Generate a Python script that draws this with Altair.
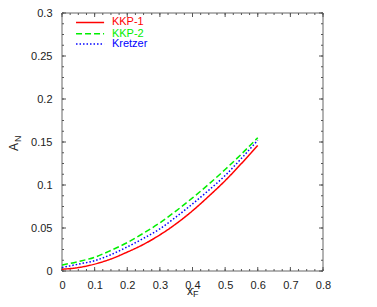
import altair as alt
import pandas as pd

# data
xF = [0.0, 0.05, 0.1, 0.15, 0.2, 0.25, 0.3, 0.35, 0.4, 0.45, 0.5, 0.55, 0.6]
kkp1 = [0.002, 0.004, 0.008, 0.014, 0.022, 0.031, 0.042, 0.055, 0.070, 0.087, 0.105, 0.125, 0.146]
kkp2 = [0.007, 0.011, 0.016, 0.024, 0.033, 0.044, 0.056, 0.070, 0.085, 0.101, 0.118, 0.136, 0.155]
kretzer = [0.004, 0.008, 0.012, 0.019, 0.028, 0.038, 0.049, 0.063, 0.078, 0.094, 0.111, 0.131, 0.152]

series = ["KKP-1", "KKP-2", "Kretzer"]
colors = ["#ff0000", "#00ee00", "#0000ff"]
dashes = [[1, 0], [6, 3], [1.5, 2]]

x_major = [0, 0.1, 0.2, 0.3, 0.4, 0.5, 0.6, 0.7, 0.8]
x_minor = [round(0.025 * k, 4) for k in range(33)]
y_major = [0, 0.05, 0.1, 0.15, 0.2, 0.25, 0.3]
y_minor = [round(0.0125 * k, 4) for k in range(25)]

# legend placement (data units)
leg_x1, leg_x2, leg_tx = 0.043, 0.129, 0.153
leg_y = [0.289, 0.276, 0.264]

rows = []
for name, vals in zip(series, [kkp1, kkp2, kretzer]):
    for xv, yv in zip(xF, vals):
        rows.append({"x": xv, "y": yv, "series": name})
df = pd.DataFrame(rows)
leg = pd.DataFrame({"series": series, "x1": [leg_x1] * 3, "x2": [leg_x2] * 3,
                    "tx": [leg_tx] * 3, "y": leg_y})

W, H = 261, 258
FONT = "Liberation Sans"
TICK = "#555555"
xs = alt.Scale(domain=[0, 0.8], nice=False, zero=False)
ys = alt.Scale(domain=[0, 0.3], nice=False, zero=False)
col = alt.Scale(domain=series, range=colors)
dsh = alt.Scale(domain=series, range=dashes)

AX_X = alt.Axis(values=x_major, format=".1~f", ticks=False, domain=False, grid=False,
                labelPadding=8, labelFlush=False, labelFont=FONT, labelFontSize=11,
                labelColor="#222222", title=None)
AX_Y = alt.Axis(values=y_major, format=".2~f", ticks=False, domain=False, grid=False,
                labelPadding=10, labelFlush=False, labelFont=FONT, labelFontSize=11,
                labelColor="#222222", title=None)

lines = alt.Chart(df).mark_line(strokeWidth=1.5, interpolate="monotone").encode(
    x=alt.X("x:Q", scale=xs, axis=AX_X),
    y=alt.Y("y:Q", scale=ys, axis=AX_Y),
    color=alt.Color("series:N", scale=col, legend=None),
    strokeDash=alt.StrokeDash("series:N", scale=dsh, legend=None),
)

leg_rules = alt.Chart(leg).mark_rule(strokeWidth=1.5).encode(
    x=alt.X("x1:Q", scale=xs, axis=AX_X),
    x2="x2:Q",
    y=alt.Y("y:Q", scale=ys, axis=AX_Y),
    color=alt.Color("series:N", scale=col, legend=None),
    strokeDash=alt.StrokeDash("series:N", scale=dsh, legend=None),
)

leg_text = alt.Chart(leg).mark_text(align="left", baseline="middle", font=FONT,
                                    fontSize=11).encode(
    x=alt.X("tx:Q", scale=xs, axis=AX_X),
    y=alt.Y("y:Q", scale=ys, axis=AX_Y),
    text="series:N",
    color=alt.Color("series:N", scale=col, legend=None),
)

# frame
tdf = pd.DataFrame({"t": [0]})
frame = alt.Chart(tdf).mark_rect(fill="transparent", stroke="#666666", strokeWidth=1).encode(
    x=alt.value(0), x2=alt.value(W), y=alt.value(0), y2=alt.value(H))


# inward ticks on all four sides
def xticks(vals, size):
    d = pd.DataFrame({"v": vals})
    base = alt.Chart(d).mark_rule(color=TICK, strokeWidth=1)
    bot = base.encode(x=alt.X("v:Q", scale=xs, axis=AX_X), y=alt.value(H), y2=alt.value(H - size))
    top = base.encode(x=alt.X("v:Q", scale=xs, axis=AX_X), y=alt.value(0), y2=alt.value(size))
    return [bot, top]


def yticks(vals, size):
    d = pd.DataFrame({"v": vals})
    base = alt.Chart(d).mark_rule(color=TICK, strokeWidth=1)
    left = base.encode(y=alt.Y("v:Q", scale=ys, axis=AX_Y), x=alt.value(0), x2=alt.value(size))
    right = base.encode(y=alt.Y("v:Q", scale=ys, axis=AX_Y), x=alt.value(W), x2=alt.value(W - size))
    return [left, right]


ticks = xticks(x_minor, 2) + xticks(x_major, 4) + yticks(y_minor, 2) + yticks(y_major, 4)

x_title = alt.Chart(tdf).mark_text(font=FONT, fontSize=12, align="center",
                                   baseline="alphabetic", color="#222222").encode(
    x=alt.value(128), y=alt.value(H + 24), text=alt.value("x"))
x_sub = alt.Chart(tdf).mark_text(font=FONT, fontSize=9, align="left",
                                 baseline="alphabetic", color="#222222").encode(
    x=alt.value(131), y=alt.value(H + 26), text=alt.value("F"))
y_title = alt.Chart(tdf).mark_text(font=FONT, fontSize=12, align="center", angle=270,
                                   baseline="alphabetic", color="#222222").encode(
    x=alt.value(-44), y=alt.value(134), text=alt.value("A"))
y_sub = alt.Chart(tdf).mark_text(font=FONT, fontSize=9, align="left", angle=270,
                                 baseline="alphabetic", color="#222222").encode(
    x=alt.value(-41), y=alt.value(129), text=alt.value("N"))

chart = alt.layer(frame, *ticks, lines, leg_rules, leg_text,
                  x_title, x_sub, y_title, y_sub).properties(
    width=W, height=H,
    autosize=alt.AutoSizeParams(type="none"),
    padding={"left": 54, "top": 5, "right": 40, "bottom": 27},
).configure_view(stroke=None)

chart.save("out.html", embed_options={"renderer": "svg", "actions": False})
